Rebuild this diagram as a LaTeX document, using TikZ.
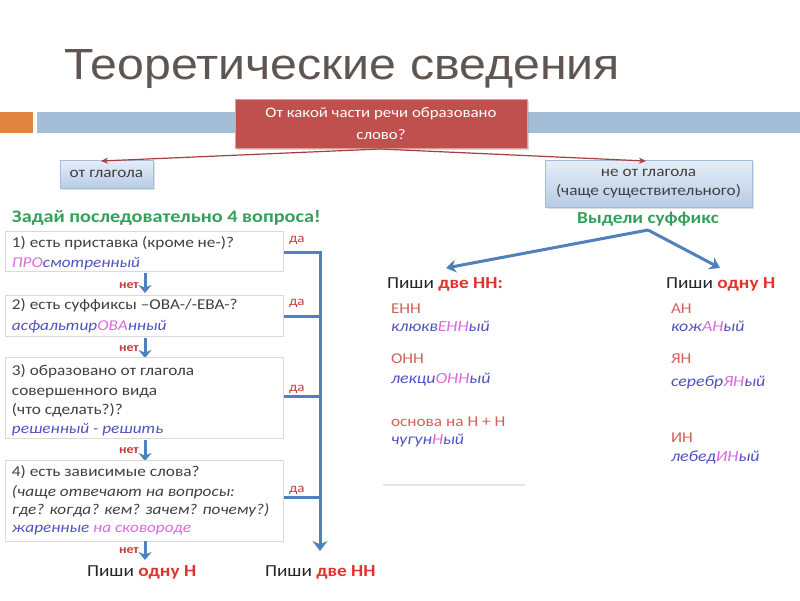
\documentclass[tikz,border=0pt]{standalone}
\usepackage{fontspec}
\setmainfont{Carlito}[FakeStretch=1.15]
\newfontfamily\titlefont{Liberation Sans}
\usetikzlibrary{arrows.meta,shadows}
\definecolor{titlec}{HTML}{5F5652}
\definecolor{orangebar}{HTML}{E0843F}
\definecolor{bluebar}{HTML}{A3BED6}
\definecolor{redboxc}{HTML}{C0504D}
\definecolor{redline}{HTML}{A4403D}
\definecolor{boxtop}{HTML}{E6EEF7}
\definecolor{boxbot}{HTML}{B7CCE6}
\definecolor{boxedge}{HTML}{A5BDDC}
\definecolor{txt}{HTML}{404040}
\definecolor{greenc}{HTML}{33A15A}
\definecolor{arrowblue}{HTML}{4F81BD}
\definecolor{nored}{HTML}{C43C3C}
\definecolor{boldred}{HTML}{E2322C}
\definecolor{salmon}{HTML}{D4605A}
\definecolor{ipurple}{HTML}{5152C2}
\definecolor{ipink}{HTML}{DC6ADB}
\definecolor{qedge}{HTML}{DADADA}
\begin{document}
\begin{tikzpicture}[x=1pt,y=-1pt,
  basew/.style={anchor=base west, inner sep=0pt, outer sep=0pt},
  qline/.style={basew, text=txt, font=\fontsize{15}{18}\selectfont},
  qex/.style={basew, text=ipurple, font=\fontsize{15}{18}\selectfont\itshape},
  qit/.style={basew, text=txt, font=\fontsize{15}{18}\selectfont\itshape},
  nolbl/.style={basew, text=nored, font=\fontsize{12}{14}\selectfont\bfseries},
  yeslbl/.style={basew, text=nored, font=\fontsize{13}{14}\selectfont},
  verdict/.style={basew, text=black!85, font=\fontsize{16.8}{18}\selectfont},
  greenhead/.style={basew, text=greenc, font=\fontsize{17.6}{20}\selectfont\bfseries},
  sfx/.style={basew, text=salmon, font=\fontsize{15}{18}\selectfont},
  sfxex/.style={basew, text=ipurple, font=\fontsize{15.5}{18}\selectfont\itshape},
  qbox/.style={draw=qedge, line width=0.8pt},
  stepdown/.style={draw=arrowblue, line width=3pt, -{Stealth[length=8pt,width=13pt]}},
  brk/.style={draw=arrowblue, line width=3pt},
  brkarrow/.style={draw=arrowblue, line width=3pt, -{Stealth[length=10pt,width=15pt]}},
  splitarrow/.style={draw=arrowblue, line width=3pt, -{Stealth[length=10pt,width=13pt]}},
  redarrow/.style={draw=redline, line width=1.2pt, -{Stealth[length=7pt,width=6pt]}},
  gbox/.style={top color=boxtop, bottom color=boxbot, draw=boxedge, line width=0.6pt,
    text=txt, font=\fontsize{15}{19}\selectfont, align=center, inner sep=0pt,
    drop shadow={opacity=0.25, shadow xshift=1.5pt, shadow yshift=-1.5pt}},
  rbox/.style={fill=redboxc, draw=redboxc!55!white, line width=0.8pt, text=white,
    font=\fontsize{14.6}{21.5}\selectfont, align=center, inner sep=0pt,
    drop shadow={opacity=0.3, shadow xshift=1.5pt, shadow yshift=-1.5pt}}
]
\useasboundingbox (0,0) rectangle (800,600);
\fill[white] (0,0) rectangle (800,600);

% title
\node[basew, text=titlec] (title) at (64,79)
  {\resizebox{556pt}{30pt}{\titlefont\fontsize{42}{42}\selectfont Теоретические сведения}};

% bars
\fill[orangebar] (0,112) rectangle (33,133);
\fill[bluebar] (37,112) rectangle (800,133);

% top question
\node[rbox, minimum width=292pt, minimum height=49pt] (ask) at (381,123.5)
  {От какой части речи образовано\\слово?};
\node[gbox, minimum width=93pt, minimum height=28pt] (verb) at (106.5,174) {от глагола};
\node[gbox, minimum width=207pt, minimum height=47pt] (noverb) at (648.5,183.5)
  {не от глагола\\(чаще существительного)};
\coordinate (askfoot) at (380,149);
\coordinate (verbtip) at (101,161);
\coordinate (noverbtip) at (646,161);
\draw[redarrow] (askfoot) -- (verbtip);
\draw[redarrow] (askfoot) -- (noverbtip);

% left column
\node[greenhead] (ask4) at (12,222) {Задай последовательно 4 вопроса!};

\draw[qbox] (5,231) rectangle (283,271);
\node[qline] (q1a) at (12,247) {1) есть приставка (кроме не-)?};
\node[qex] (q1b) at (12,267) {{\color{ipink}ПРО}смотренный};
\node[nolbl] (no1) at (119,288) {нет};
\coordinate (a1s) at (145,273);
\coordinate (a1e) at (145,293);
\draw[stepdown] (a1s) -- (a1e);

\draw[qbox] (5,295) rectangle (283,336);
\node[qline] (q2a) at (12,309) {2) есть суффиксы –ОВА-/-ЕВА-?};
\node[qex] (q2b) at (12,330) {асфальтир{\color{ipink}ОВА}нный};
\node[nolbl] (no2) at (119,351) {нет};
\coordinate (a2s) at (145,338);
\coordinate (a2e) at (145,358);
\draw[stepdown] (a2s) -- (a2e);

\draw[qbox] (5,357) rectangle (283,438);
\node[qline] (q3a) at (12,375) {3) образовано от глагола};
\node[qline] (q3b) at (12,395) {совершенного  вида};
\node[qline] (q3c) at (12,414) {(что сделать?)?};
\node[qex] (q3d) at (12,433) {решенный - решить};
\node[nolbl] (no3) at (119,453) {нет};
\coordinate (a3s) at (145,440);
\coordinate (a3e) at (145,461);
\draw[stepdown] (a3s) -- (a3e);

\draw[qbox] (5,460) rectangle (283,541);
\node[qline] (q4a) at (12,476) {4) есть зависимые слова?};
\node[qit] (q4b) at (12,496) {(чаще отвечают на вопросы:};
\node[qit] (q4c) at (12,514) {где? когда? кем? зачем? почему?)};
\node[qex] (q4d) at (12,532) {жаренные {\color{ipink}на сковороде}};
\node[nolbl] (no4) at (119,553) {нет};
\coordinate (a4s) at (145,541);
\coordinate (a4e) at (145,560);
\draw[stepdown] (a4s) -- (a4e);

\node[verdict] (one) at (87,576) {Пиши {\bfseries\color{boldred}одну Н}};
\node[verdict] (two) at (265,576) {Пиши {\bfseries\color{boldred}две НН}};

% yes bracket
\node[yeslbl] (y1) at (289,242) {да};
\node[yeslbl] (y2) at (289,305) {да};
\node[yeslbl] (y3) at (289,391) {да};
\node[yeslbl] (y4) at (289,492) {да};
\coordinate (t1s) at (284,252);
\coordinate (t1e) at (321.5,252);
\coordinate (t2s) at (284,316);
\coordinate (t2e) at (320,316);
\coordinate (t3s) at (284,396);
\coordinate (t3e) at (320,396);
\coordinate (t4s) at (284,497);
\coordinate (t4e) at (320,497);
\coordinate (vtop) at (320,250.5);
\coordinate (vend) at (320,551);
\draw[brk] (t1s) -- (t1e);
\draw[brk] (t2s) -- (t2e);
\draw[brk] (t3s) -- (t3e);
\draw[brk] (t4s) -- (t4e);
\draw[brkarrow] (vtop) -- (vend);

% right side
\node[greenhead, anchor=base, font=\fontsize{16.8}{20}\selectfont\bfseries] (sel) at (648,223) {Выдели суффикс};
\coordinate (selfoot) at (648,230);
\coordinate (twotip) at (446,268);
\coordinate (onetip) at (720,268);
\draw[splitarrow] (selfoot) -- (twotip);
\draw[splitarrow] (selfoot) -- (onetip);

\node[verdict] (twoh) at (387,288) {Пиши {\bfseries\color{boldred}две НН:}};
\node[verdict] (oneh) at (666,288) {Пиши {\bfseries\color{boldred}одну Н}};

\node[sfx] (enn) at (391,313) {ЕНН};
\node[sfxex] (enne) at (391,331) {клюкв{\color{ipink}ЕНН}ый};
\node[sfx] (onn) at (391,363) {ОНН};
\node[sfxex] (onne) at (391,383) {лекци{\color{ipink}ОНН}ый};
\node[sfx] (stem) at (391,426) {основа на Н + Н};
\node[sfxex] (steme) at (391,444) {чугун{\color{ipink}Н}ый};

\node[sfx] (an) at (671,313) {АН};
\node[sfxex] (ane) at (671,331) {кож{\color{ipink}АН}ый};
\node[sfx] (yan) at (671,363) {ЯН};
\node[sfxex] (yane) at (671,386) {серебр{\color{ipink}ЯН}ый};
\node[sfx] (in) at (671,442) {ИН};
\node[sfxex] (ine) at (671,461) {лебед{\color{ipink}ИН}ый};

\draw[black!10, line width=1.5pt] (383,485) -- (525,485);
\end{tikzpicture}
\end{document}
